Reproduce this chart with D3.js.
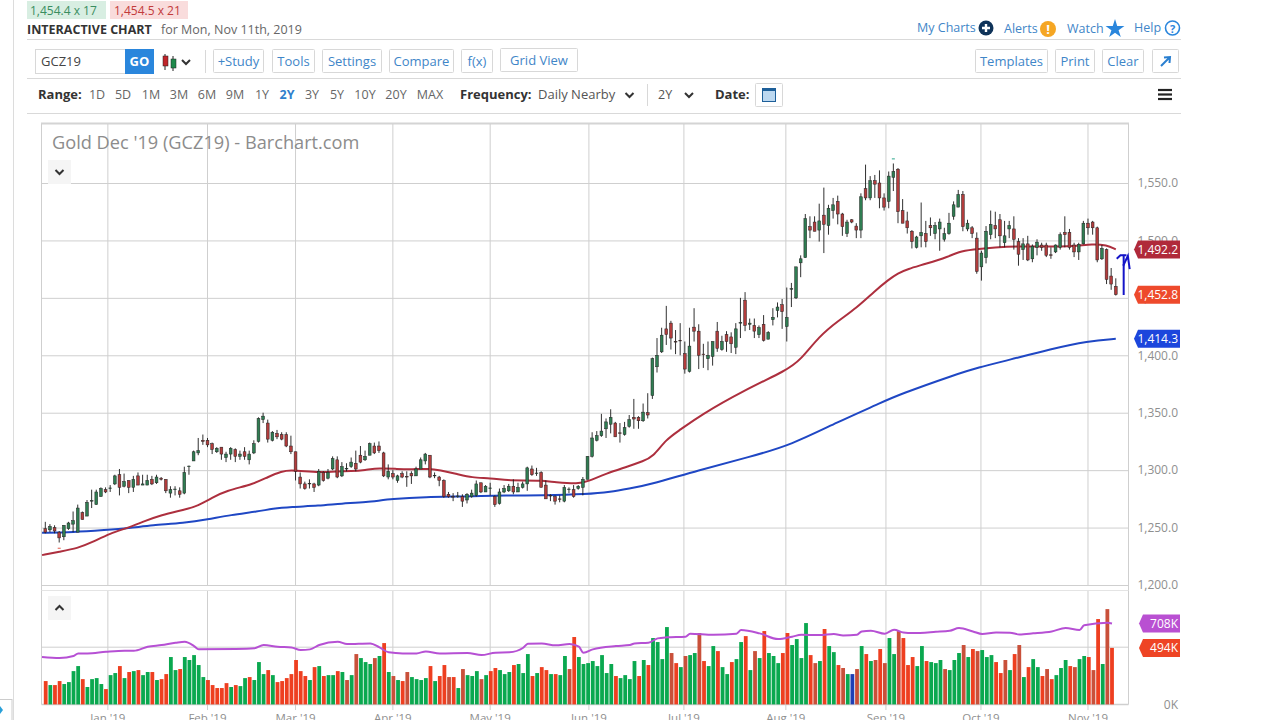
<!DOCTYPE html>
<html><head><meta charset="utf-8">
<script src="https://cdn.jsdelivr.net/npm/d3@7"></script>
<style>
html,body{margin:0;padding:0;background:#fff;overflow:hidden}
svg{display:block;font-family:"Open Sans",sans-serif}
.domain{display:none}
</style></head><body><div id="c"></div>
<script>
const opens=[1249,1248,1250,1246,1242,1249,1253,1246,1263,1260,
1273,1270,1277,1283,1284,1288,1296,1286,1291,1285,
1295,1287,1287,1292,1289,1293,1292,1280,1283,1282,
1280,1303,1308,1315,1326,1326,1323,1316,1320,1311,
1314,1318,1312,1316,1309,1315,1325,1344,1341,1326,
1332,1331,1331,1321,1316,1294,1288,1288,1288,1287,
1298,1293,1301,1309,1295,1301,1303,1306,1313,1309,
1313,1321,1321,1315,1294,1297,1291,1297,1294.5,1297,
1295,1301,1308,1313,1295,1294,1291,1279,1277,1277,
1277,1274,1277,1278,1289,1281,1284,1277,1271,1281,
1282,1286,1281,1285,1288,1301,1297,1298,1287,1278,
1277,1275,1273,1283,1283,1284,1285,1292,1312,1326,
1330,1336,1340,1341,1332.5,1331,1338,1346,1346,1343,
1350,1365,1390,1403,1423,1428,1412,1413,1401.5,1386,
1424.5,1421,1401,1397,1399,1421,1405,1418,1416,1407,
1428,1448,1427,1426,1418,1427,1414,1431,1439,1444,
1425,1458,1450,1480.5,1485,1512,1516,1509,1522,1513,
1526,1534,1523,1506,1518,1512.5,1509,1545,1537,1552,
1550,1537,1534,1555,1562,1526,1517,1508,1494,1504,
1506,1513,1506,1510,1501,1506,1521,1529,1540,1510,
1511,1502,1477,1485,1505,1513,1518,1498,1510,1510,
1499,1492,1497,1484,1494,1496,1496,1487.5,1490,1494,
1507,1507,1496,1490,1497,1515,1516,1511,1484,1492,
1469,1460];
const highs=[1255,1253,1252,1247,1252,1255,1264,1270,1264,1274,
1283,1283,1285,1285,1287,1296,1301,1297,1291,1295,
1298,1296,1296,1295,1296,1294,1292,1286,1286,1285,
1303,1304,1317,1328,1331,1328,1324,1320,1320,1316,
1320,1319,1317,1320,1317,1326,1346,1350,1344,1334,
1335,1333,1333,1330,1316,1298,1290,1292,1289,1301,
1299,1301,1312,1312,1307,1306,1311,1317,1321,1317,
1324,1324,1325,1316,1305,1300,1296,1299,1299,1299,
1303,1311,1315,1313,1298,1295,1292,1281,1280,1281,
1279,1280,1283,1291,1289,1287,1289,1278,1284,1287,
1288,1292,1289,1290,1303,1304,1302,1299,1291,1279,
1278,1278,1287,1285,1287,1287,1294,1312,1333,1334,
1349,1345,1353,1342,1341,1342,1348,1362,1347,1358,
1367,1398,1415,1424,1443,1430,1422,1428,1412,1424,
1441,1427,1410,1412,1412,1429,1417,1421,1420,1428,
1450,1455,1432,1432,1426,1435,1421,1441,1446,1449,
1459,1463,1477,1487,1523,1521,1521,1532,1546,1531,
1537,1539,1524,1518,1518.5,1515,1541,1566,1556,1557,
1561,1541,1560,1567,1563,1536,1525,1509,1504,1533,
1517,1520,1516,1519,1511,1524,1534,1544,1543,1518,
1512.5,1507,1491,1512.5,1526,1525,1523,1517,1517,1521,
1502,1502,1504,1496.5,1501,1498,1498,1494,1496.5,1507,
1521,1510,1498,1498,1517,1519,1517,1512,1496,1493,
1476,1467];
const lows=[1245,1246,1245,1237,1239,1248,1246,1246,1257,1260,
1267,1270,1277,1280,1281,1287,1278,1285,1280,1281,
1287,1287,1287,1287,1288,1291,1280,1276,1278,1276,
1279,1296,1308,1313,1322,1320,1314,1315,1309,1307,
1309,1307,1309,1309,1305,1314,1324,1341,1324,1325,
1327,1326,1320,1314,1291,1284,1283,1284,1281,1286,
1290,1292,1300,1293,1294,1299,1302,1299,1306,1308,
1313,1314,1315,1294,1292,1292,1289,1293,1285.5,1288,
1295,1301,1305,1293,1293,1286,1276,1276,1273,1276,
1268,1271,1276,1277,1280,1281,1278,1268,1270,1280,
1281,1279,1281,1284,1282,1295,1295,1285,1275,1273,
1270,1272,1272,1280,1276,1283,1278,1292,1311,1325,
1329,1328,1332,1329,1324,1330,1337,1336,1336,1342,
1345,1362,1385,1402,1409,1405,1401,1400,1384,1385,
1412,1388,1389,1387,1391,1403,1404,1403,1402,1401,
1415,1421,1422,1415,1415,1412,1414,1426,1433,1423,
1412,1442,1449,1468,1485,1502,1508,1499,1489,1505,
1519,1514,1504,1503,1515,1502,1502,1535,1535,1537,
1528,1526,1528,1543,1515,1515,1506,1493,1493,1494,
1494,1504,1501,1491,1499,1505,1518,1529,1508,1508,
1502,1471,1465,1480,1501,1502,1494,1494,1502,1492,
1478,1483,1482,1481,1487,1491,1485.5,1484,1489,1492,
1494,1492,1485.5,1483,1496.5,1505,1505,1481,1483,1462,
1457,1452];
const closes=[1246,1251,1247,1241,1252,1254,1256,1267,1257,1272,
1273.5,1281,1284,1281,1284.5,1295,1285,1290,1285,1292,
1287,1288,1291,1288,1294,1292,1282,1283,1283.5,1279,
1298,1303.5,1316,1317,1325,1322,1318,1319,1314,1314,
1319,1312,1314,1312,1314,1323,1345,1347,1327,1333,
1329,1327,1321,1316,1299,1288,1284,1288.5,1285,1299,
1291,1298,1310,1294,1303,1301.5,1307,1301,1307,1312,
1323,1315,1317,1295,1299,1294,1295,1294,1294,1295,
1301,1309,1314,1294,1295.5,1291,1277,1277,1276.5,1277.5,
1273,1279,1280,1288,1281,1286,1284.5,1270,1281,1284,
1286,1281,1285,1288,1302,1296,1297.5,1285,1275,1277.5,
1273,1274.5,1285,1283.5,1277,1286,1292,1312,1328,1330,
1334,1342,1346,1329,1332,1337,1344,1344.5,1343,1350.5,
1348,1397,1400,1417.5,1418,1415,1411.5,1412.5,1388,1408,
1421,1400,1400.5,1400,1412,1406,1412,1412,1410,1423,
1428.5,1426,1428,1421,1424,1413,1420,1433,1442,1438,
1433,1458,1477,1484,1519,1509,1508,1517,1514,1528,
1531,1523,1512,1516,1516,1509,1538,1537,1552,1549,
1537,1529,1556,1560,1525,1515,1511,1499,1503,1507,
1499,1511,1513,1516,1506,1515,1531,1540,1512,1515,
1506,1473,1489,1508,1514,1510,1504,1504,1513,1501,
1488,1497,1483,1495,1498.5,1494,1487,1487,1496,1505,
1505,1494,1490,1496.5,1515,1511,1511,1483,1493,1466,
1462,1452.8];
const volumes=[204,169,169,204,178,195,291,335,221,152,
221,230,178,134,256,274,335,230,283,291,
300,256,283,283,213,221,265,414,300,309,
414,388,431,344,239,213,169,143,143,186,
152,169,160,230,239,213,370,265,300,256,
195,204,230,265,388,291,248,213,326,335,
248,256,256,291,283,213,256,440,405,370,
353,405,423,536,283,248,213,
204,283,239,221,213,230,335,204,248,344,
239,239,143,309,256,248,291,221,256,291,
318,300,265,283,344,353,274,440,248,274,
326,300,265,265,256,423,309,589,414,353,
361,379,335,431,274,353,248,230,256,221,
379,248,388,344,580,545,396,676,449,361,
326,423,431,449,624,379,335,510,466,326,
265,370,396,545,597,300,466,405,641,449,
423,361,449,624,519,571,
405,711,431,361,379,659,510,457,344,318,
265,265,309,510,440,379,388,484,361,580,
440,641,580,344,414,335,510,379,370,361,
388,309,300,388,449,519,414,484,466,475,
414,431,370,274,388,300,440,519,239,326,
396,326,248,309,221,256,318,388,335,326,
396,423,414,300,746,353,833,494];
const volumeKinds=("RGRRGGGGRG"+"GGGRGGRGRG"+"RGGRGRRGGR"+"GGGGGRRRRR"+"GRGGRGGGRG"+"RRRRRRRGRG"+"RGGRGDGDGG"+"GDGRGDG"
+"RDGGGGRGRR"+"DRGDGGGDGR"+"RGGGRGGGRG"+"RRGRGGDRGG"+"GGGGGGRGGG"+"GRGRGGGGDR"+"GDGGDRGGRG"+"GRGGRGDGRG"+"GGRRGG"
+"GGRDGRGGRD"+"GBDGRGDRDG"+"GDRRRGGRGG"+"GDGGGDGRDG"+"GGRRDGRDGR"+"GGRDRGGGRD"+"GGRDRGDR").split("");
const volAvgIdx=[-0.8,3,6,7,9,13,17,19,22,25,28,30,32,33,41,45,47,50,53,55,57,59,63,65,70,72,74,77,80,82,85,91,94,97,100,103,104,107,110,113,115,116,118,123,126,127,130,132,134,138,139,144,149,150,154,158,161,163,167,170,172,175,176,178,181,183,185,187,192,195,197,200,202,205,208,210,213,217,220,223,224,229,230];
const volAvg=[414,405,423,446,446,460,469,469,504,519,539,548,510,481,484,490,519,504,498,475,481,519,548,527,533,498,455,446,446,463,446,449,431,452,455,495,530,533,516,527,504,452,481,510,519,533,539,577,586,592,618,609,618,650,621,571,592,609,606,615,603,609,638,644,618,653,629,624,635,644,667,638,615,629,627,612,621,638,667,650,691,714,708];
const ma50Idx=[-0.7,3,7,10,14,18,21,25,30,33,36,39,45,48,51,53,56,59,63,66,69,72,76,79,83,85,89,92,96,100,103,107,110,115,117,121,126,129,131,134,137,141,151,160,163,167,171,175,179,182,184,186,190,195,197,200,205,210,216,222,226,229,231];
const ma50=[1226,1229,1232,1237,1245,1250,1255,1261,1265.5,1269,1276,1282,1288,1294,1299,1300,1299,1298,1299,1299,1300,1302,1301,1300.5,1301.5,1300,1296.5,1293.5,1293,1291,1291,1291,1289.5,1288,1290,1297,1303.5,1308,1311,1327,1335,1347,1370,1387,1396,1416.6,1429.7,1441,1456,1466,1471.5,1475,1479.6,1486,1490,1492,1494,1495,1494.5,1495,1497,1496,1492.2];
const ma200Idx=[-0.7,6,13,18,23,30,35,40,46,49,53,59,64,69,75,82,90,100,107,117,122,126,130,141,152,161,171,180,184,197,201,208,217,225,231];
const ma200=[1245.5,1246,1248,1249.5,1252,1254,1257,1261,1264,1266.5,1268,1269,1271,1272,1275,1276.7,1277,1278,1278,1279,1281,1284,1287,1300,1311.5,1322,1342,1358,1365.5,1384,1389,1396,1405.5,1412.5,1414.3];
const monthIdx=[13.5,35,54,75,96,117.3,137.8,159.8,181.4,201.9,225];
const monthLabels=["Jan '19","Feb '19","Mar '19","Apr '19","May '19","Jun '19","Jul '19","Aug '19","Sep '19","Oct '19","Nov '19"];
const priceTicks=[1200,1250,1300,1350,1400,1450,1500,1550];
const priceTags=[{v:1492.2,c:"#b02a3a"},{v:1452.8,c:"#ee4a2c"},{v:1414.3,c:"#1c46dc"}];
const volumeTags=[{v:708,c:"#b950d2"},{v:494,c:"#ee4424"}];
const penHookIdx=[231.2,232,233.3];
const penHookPrice=[1484,1487,1487];
const penStemIdx=[232.7,232.7];
const penStemPrice=[1487.5,1452.5];
const penBarbIdx=[232.6,233.6,234];
const penBarbPrice=[1478,1486.5,1475];
const rangeItems=["1D","5D","1M","3M","6M","9M","1Y","2Y","3Y","5Y","10Y","20Y","MAX"];
const rangeCenters=[97,123,151,179,207,235,262,287,312,337,365,396,430];

const svg=d3.select("#c").append("svg").attr("width",1280).attr("height",720);
const x=d3.scaleLinear().domain([0,231]).range([45.3,1115.8]);
const y=d3.scaleLinear().domain([1200,1550]).range([585,183]);
const vx=d3.scaleLinear().domain([0,230]).range([45.7,1112]);
const vy=d3.scaleLinear().domain([0,1000]).range([704.4,590]);
const L=41.5,R=1128.5;
const grid="#cfcfcf";

function T(t,px,py,o={}){return svg.append("text").attr("x",px).attr("y",py).text(t)
 .attr("font-size",o.s||13).attr("fill",o.c||"#555").attr("font-weight",o.w||400).attr("text-anchor",o.a||"start");}
function Btn(l,r,t,b,label,o={}){svg.append("rect").attr("x",l+.5).attr("y",t+.5).attr("width",r-l-1).attr("height",b-t-1)
 .attr("fill","#fff").attr("stroke","#d8d8d8").attr("rx",1);
 if(label)T(label,(l+r)/2,(t+b)/2+4.5,{a:"middle",c:"#3f86c8",s:13});}
function Line(a,b,c,d,col,w){svg.append("line").attr("x1",a).attr("y1",b).attr("x2",c).attr("y2",d).attr("stroke",col).attr("stroke-width",w||1);}
function Chevron(cx,cy,up,col){svg.append("path").attr("d",up?`M${cx-4},${cy+2}L${cx},${cy-2}L${cx+4},${cy+2}`:`M${cx-4},${cy-2}L${cx},${cy+2}L${cx+4},${cy-2}`)
 .attr("fill","none").attr("stroke",col||"#333").attr("stroke-width",2);}

// page chrome
Line(13.5,0,13.5,720,"#dcdcdc");
[39,78,113].forEach(v=>Line(27,v+.5,1181,v+.5,"#d9d9d9"));
svg.append("rect").attr("x",27).attr("y",1).attr("width",79).attr("height",18).attr("fill","#d8eee2");
svg.append("rect").attr("x",110).attr("y",1).attr("width",78).attr("height",18).attr("fill","#f9dcdc");
T("1,454.4 x 17",30,15,{s:12,c:"#3a8d60"});
T("1,454.5 x 21",114,15,{s:12,c:"#c23b3b"});
T("INTERACTIVE CHART",27,34,{s:12.5,w:700,c:"#333"});
T("for Mon, Nov 11th, 2019",161,34,{s:12.5,c:"#666"});

svg.append("rect").attr("x",35.5).attr("y",49.5).attr("width",90).attr("height",24).attr("fill","#fff").attr("stroke","#d8d8d8");
T("GCZ19",41,66,{s:13,c:"#444"});
svg.append("rect").attr("x",125).attr("y",49).attr("width",29).attr("height",25).attr("fill","#2a86dc");
T("GO",139.5,66,{a:"middle",s:13,w:700,c:"#fff"});
Line(165,54,165,70,"#222");Line(173,56,173,71,"#222");
svg.append("rect").attr("x",163).attr("y",56).attr("width",5).attr("height",10).attr("fill","#c0242a").attr("stroke","#222").attr("stroke-width",.5);
svg.append("rect").attr("x",171).attr("y",59).attr("width",5).attr("height",9).attr("fill","#1f8a4c").attr("stroke","#222").attr("stroke-width",.5);
Chevron(186,62,false);
Line(205.5,50,205.5,73,"#d8d8d8");
Btn(213,264,49,73,"+Study");Btn(272,315,49,73,"Tools");Btn(322,382,49,73,"Settings");
Btn(389,454,49,73,"Compare");Btn(461,493,49,73,"f(x)");Btn(500,578,48,72,"Grid View");
Btn(975,1048,49,73,"Templates");Btn(1055,1095,49,73,"Print");Btn(1102,1144,49,73,"Clear");Btn(1152,1179,49,73,"");
svg.append("path").attr("d","M1161,66L1169,58M1164,57.5L1170,57L1169.5,63").attr("stroke","#2a7fd0").attr("stroke-width",2).attr("fill","none");

T("My Charts",917,32,{c:"#3f86c8",s:12.5});
svg.append("circle").attr("cx",986).attr("cy",28).attr("r",7.5).attr("fill","#0f3359");
svg.append("path").attr("d","M982,28H990M986,24V32").attr("stroke","#fff").attr("stroke-width",2.4);
T("Alerts",1004,33,{c:"#3f86c8",s:12.5});
svg.append("circle").attr("cx",1048).attr("cy",29).attr("r",8).attr("fill","#f5a623");
T("!",1048,34,{a:"middle",c:"#fff",w:700,s:13});
T("Watch",1067,33,{c:"#3f86c8",s:12.5});
svg.append("path").attr("d",d3.symbol().type(d3.symbolStar).size(110)).attr("transform","translate(1115,29)").attr("fill","#2a86dc");
T("Help",1134,32,{c:"#3f86c8",s:12.5});
svg.append("circle").attr("cx",1172.5).attr("cy",28).attr("r",7).attr("fill","#fff").attr("stroke","#2a86dc").attr("stroke-width",1.6);
T("?",1172.5,32.5,{a:"middle",c:"#2a86dc",w:700,s:11});

T("Range:",38,99,{w:700,c:"#333"});
rangeItems.forEach((t,i)=>T(t,rangeCenters[i],99,{a:"middle",c:t==="2Y"?"#2f80cc":"#666",w:t==="2Y"?700:400,s:12.5}));
T("Frequency:",460,99,{w:700,c:"#333"});
T("Daily Nearby",538,99,{c:"#555"});
Chevron(629.5,95,false);
Line(647.5,84,647.5,106,"#d8d8d8");
T("2Y",658,99,{s:12.5,c:"#555"});
Chevron(689,95,false);
T("Date:",715,99,{w:700,c:"#333"});
Btn(755,783,83,107,"");
svg.append("rect").attr("x",762.5).attr("y",88.5).attr("width",13).attr("height",13).attr("fill","#bcd8f0").attr("stroke","#1d5f99");
svg.append("rect").attr("x",762).attr("y",88).attr("width",14).attr("height",3).attr("fill","#1d5f99");
[90,94.5,99].forEach(v=>Line(1158,v,1172,v,"#222",2.2));

// panel frames and grid
Line(L-.5,123.5,R+.5,123.5,"#d4d4d4",2);
Line(L,124,L,704.5,grid);Line(R,124,R,704.5,grid);
svg.append("g").attr("transform",`translate(${R},0)`)
 .call(d3.axisLeft(y).tickValues(priceTicks).tickSize(R-L).tickFormat(""))
 .call(g=>g.selectAll(".tick line").attr("stroke",grid));
const monthGrid=(sel,top,bot)=>sel.selectAll("line.m").data(monthIdx).join("line").attr("class","m")
 .attr("x1",d=>x(d)).attr("x2",d=>x(d)).attr("y1",top).attr("y2",bot).attr("stroke",grid);
monthGrid(svg.append("g"),124,585);
monthGrid(svg.append("g"),590,710);
Line(L,590.5,R,590.5,"#e4e4e4");
Line(L,vy(500),R,vy(500),grid);
Line(L,vy(0),R,vy(0),grid,1.5);

// axis labels
const axP=svg.append("g").attr("transform","translate(1178,0)")
 .call(d3.axisLeft(y).tickValues(priceTicks).tickSize(0).tickPadding(0).tickFormat(d3.format(",.1f")));
axP.selectAll("text").attr("font-size",12).attr("fill","#8f8f8f").attr("font-family","'Open Sans',sans-serif");
const axV=svg.append("g").attr("transform","translate(1178,0)")
 .call(d3.axisLeft(vy).tickValues([0]).tickSize(0).tickPadding(0).tickFormat(d=>d+"K"));
axV.selectAll("text").attr("font-size",12).attr("fill","#8f8f8f").attr("font-family","'Open Sans',sans-serif");
svg.append("g").selectAll("text").data(monthLabels).join("text")
 .attr("x",(d,i)=>x(monthIdx[i])).attr("y",722).attr("text-anchor","middle").attr("font-size",11.5).attr("fill","#8f8f8f").text(d=>d);

T("Gold Dec '19 (GCZ19) - Barchart.com",52,149,{s:18.2,c:"#8c8c8c"});
[[48,160,false],[48,596,true]].forEach(([a,b,up])=>{
 svg.append("rect").attr("x",a).attr("y",b).attr("width",23).attr("height",24).attr("fill","#f5f5f5");
 Chevron(a+11.5,b+12,up);});

// moving averages
const pts=(ix,vs)=>ix.map((d,i)=>[d,vs[i]]);
const lineP=d3.line().x(d=>x(d[0])).y(d=>y(d[1])).curve(d3.curveBasis);
svg.append("path").attr("d",lineP(pts(ma200Idx,ma200))).attr("fill","none").attr("stroke","#1f47c4").attr("stroke-width",2);
svg.append("path").attr("d",lineP(pts(ma50Idx,ma50))).attr("fill","none").attr("stroke","#ad2f3e").attr("stroke-width",2);

// candles
const idx=d3.range(opens.length);
const gC=svg.append("g");
gC.selectAll("line").data(idx).join("line")
 .attr("x1",i=>x(i)).attr("x2",i=>x(i)).attr("y1",i=>y(highs[i])).attr("y2",i=>y(lows[i]))
 .attr("stroke","#1a1a1a").attr("stroke-width",.9);
gC.selectAll("rect").data(idx).join("rect")
 .attr("x",i=>x(i)-1.4).attr("width",2.8)
 .attr("y",i=>y(Math.max(opens[i],closes[i])))
 .attr("height",i=>Math.max(.6,Math.abs(y(opens[i])-y(closes[i]))))
 .attr("fill",i=>closes[i]>=opens[i]?"#2f7d52":"#b23c3c")
 .attr("stroke","#222").attr("stroke-width",.5);
Line(x(183)-1.5,y(1571),x(183)+1.5,y(1571),"#2aa58a",1);
Line(x(3)-1.5,y(1232),x(3)+1.5,y(1232),"#e05a4a",1);

// pen annotation
const penLine=d3.line().x(d=>x(d[0])).y(d=>y(d[1]));
[pts(penHookIdx,penHookPrice),pts(penStemIdx,penStemPrice),pts(penBarbIdx,penBarbPrice)].forEach(p=>
 svg.append("path").attr("d",penLine(p)).attr("fill","none").attr("stroke","#1414c8").attr("stroke-width",2));

// tags
function tag(py,col,label,left){
 svg.append("path").attr("d",`M${left},${py}L${left+4},${py-9}H1180V${py+9}H${left+4}Z`).attr("fill",col);
 T(label,1178,py+4.5,{a:"end",c:"#fff",s:12,w:400});}
priceTags.forEach(t=>tag(y(t.v),t.c,d3.format(",.1f")(t.v),1134));
volumeTags.forEach(t=>tag(vy(t.v),t.c,t.v+"K",1139));

// volume
const kindColor={G:"#0aa84f",R:"#ee3f20",D:"#c9503a",B:"#1f3fb5"};
svg.append("g").selectAll("rect").data(volumes).join("rect")
 .attr("x",(d,i)=>vx(i)-1.9).attr("width",3.8)
 .attr("y",d=>vy(d)).attr("height",d=>vy(0)-vy(d))
 .attr("fill",(d,i)=>kindColor[volumeKinds[i]]);
svg.append("path").attr("d",d3.line().x(d=>vx(d[0])).y(d=>vy(d[1])).curve(d3.curveMonotoneX)(pts(volAvgIdx,volAvg)))
 .attr("fill","none").attr("stroke","#b650d4").attr("stroke-width",2);

// corner icon
svg.append("rect").attr("x",-1).attr("y",699.5).attr("width",13).attr("height",22).attr("fill","#fff").attr("stroke","#ccc");
svg.append("path").attr("d","M0,706L3,710L0,714Z").attr("fill","#29a0d8");
</script></body></html>
